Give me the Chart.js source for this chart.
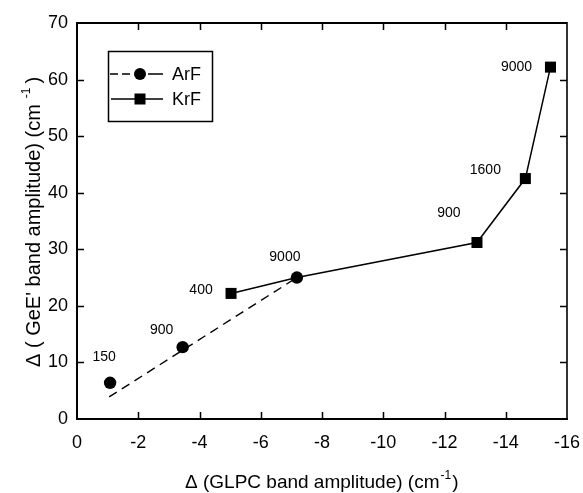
<!DOCTYPE html>
<html>
<head>
<meta charset="utf-8">
<script src="https://cdn.jsdelivr.net/npm/chart.js@4.4.1/dist/chart.umd.min.js"></script>
<style>
  html, body { margin: 0; padding: 0; background: #ffffff; }
  #wrap { width: 583px; height: 493px; position: relative; }
</style>
</head>
<body>
<div id="wrap"><canvas id="c"></canvas></div>
<script>
// ---- Data ----
const arfX = [-1.08, -3.45, -7.18];
const arfY = [6.4, 12.7, 25.0];
const arfLabels = ["150", "900", "9000"];

const arfFitX = [-1.05, -7.18];
const arfFitY = [3.9, 25.0];

const krfX = [-5.03, -7.18, -13.06, -14.64, -15.46];
const krfY = [22.2, 25.0, 31.2, 42.5, 62.2];
const krfLabels = ["400", "", "900", "1600", "9000"];
const krfMarker = [true, false, true, true, true];

const xTicks = [0, -2, -4, -6, -8, -10, -12, -14, -16];
const yTicks = [0, 10, 20, 30, 40, 50, 60, 70];

const seriesNames = ["ArF", "KrF"];

// label offsets (pixels) relative to each point
const arfLabelOffsets = [[-6, -26], [-21, -17], [-12, -20]];
const krfLabelOffsets = [[-30, -3], [0, 0], [-28, -29], [-40, -8], [-34, 0]];

const FONT = "'Liberation Sans', Arial, Helvetica, sans-serif";
Chart.defaults.font.family = FONT;
Chart.defaults.color = '#000';

const toPts = (xs, ys) => xs.map((x, i) => ({ x: x, y: ys[i] }));

const decorPlugin = {
  id: 'decor',
  afterDraw(chart) {
    const ctx = chart.ctx;
    const xs = chart.scales.x, ys = chart.scales.y;
    const L = xs.left, R = xs.right, T = ys.top, B = ys.bottom;
    ctx.save();
    ctx.strokeStyle = '#000';
    // frame
    ctx.lineWidth = 2;
    ctx.beginPath();
    ctx.moveTo(L, T); ctx.lineTo(R, T);
    ctx.moveTo(L, T - 1); ctx.lineTo(L, B + 1);
    ctx.moveTo(L - 1, B); ctx.lineTo(R + 1, B);
    ctx.stroke();
    ctx.lineWidth = 1.6;
    ctx.beginPath();
    ctx.moveTo(R, T - 1); ctx.lineTo(R, B + 1);
    ctx.stroke();
    // inward ticks
    const tl = 7;
    ctx.lineWidth = 1.5;
    ctx.beginPath();
    xTicks.forEach(v => {
      const px = Math.round(xs.getPixelForValue(v)) + 0.5;
      if (v === 0 || v === -16) return;
      ctx.moveTo(px, B); ctx.lineTo(px, B - tl);
      ctx.moveTo(px, T); ctx.lineTo(px, T + tl);
    });
    yTicks.forEach(v => {
      const py = Math.round(ys.getPixelForValue(v)) + 0.5;
      if (v === 0 || v === 70) return;
      ctx.moveTo(L, py); ctx.lineTo(L + tl, py);
      ctx.moveTo(R, py); ctx.lineTo(R - tl, py);
    });
    ctx.stroke();

    // point labels
    ctx.fillStyle = '#000';
    ctx.font = '14px ' + FONT;
    ctx.textAlign = 'center';
    ctx.textBaseline = 'middle';
    arfX.forEach((x, i) => {
      const px = xs.getPixelForValue(x), py = ys.getPixelForValue(arfY[i]);
      ctx.fillText(arfLabels[i], px + arfLabelOffsets[i][0], py + arfLabelOffsets[i][1]);
    });
    krfX.forEach((x, i) => {
      if (!krfLabels[i]) return;
      const px = xs.getPixelForValue(x), py = ys.getPixelForValue(krfY[i]);
      ctx.fillText(krfLabels[i], px + krfLabelOffsets[i][0], py + krfLabelOffsets[i][1]);
    });

    // legend
    const bx = 108.5, by = 51.5, bw = 104, bh = 70;
    ctx.lineWidth = 1.5;
    ctx.strokeRect(bx, by, bw, bh);
    const rows = [74, 99];
    ctx.setLineDash([8, 4]);
    ctx.beginPath(); ctx.moveTo(110, rows[0]); ctx.lineTo(131, rows[0]); ctx.stroke();
    ctx.setLineDash([]);
    ctx.beginPath(); ctx.moveTo(148, rows[0]); ctx.lineTo(163, rows[0]); ctx.stroke();
    ctx.beginPath(); ctx.arc(140, rows[0], 6, 0, Math.PI * 2); ctx.fill();
    ctx.beginPath(); ctx.moveTo(111, rows[1]); ctx.lineTo(163, rows[1]); ctx.stroke();
    ctx.fillRect(134.5, rows[1] - 5.5, 11, 11);
    ctx.font = '18px ' + FONT;
    ctx.textAlign = 'left';
    ctx.fillText(seriesNames[0], 172, rows[0] + 1);
    ctx.fillText(seriesNames[1], 172, rows[1] + 1);

    // x axis title
    const sup = '-1';
    ctx.textBaseline = 'alphabetic';
    ctx.font = '19px ' + FONT;
    const xMain = '\u0394 (GLPC band amplitude) (cm';
    const wMain = ctx.measureText(xMain).width;
    ctx.font = '12px ' + FONT;
    const wSup = ctx.measureText(sup).width;
    let sx = 185;
    const baseY = 488;
    ctx.font = '19px ' + FONT;
    ctx.fillText(xMain, sx, baseY);
    ctx.font = '12px ' + FONT;
    ctx.fillText(sup, sx + wMain + 1, baseY - 9);
    ctx.font = '19px ' + FONT;
    ctx.fillText(')', sx + wMain + wSup + 2, baseY);

    // y axis title (rotated)
    ctx.save();
    ctx.translate(40, 367);
    ctx.rotate(-Math.PI / 2);
    ctx.font = '20px ' + FONT;
    const yMain = "\u0394 ( GeE' band amplitude) (cm";
    const wyMain = ctx.measureText(yMain).width;
    ctx.fillText(yMain, 0, 0);
    ctx.font = '12px ' + FONT;
    ctx.fillText(sup, wyMain + 6, -10);
    ctx.font = '20px ' + FONT;
    ctx.fillText(')', wyMain + 6 + wSup + 4, 0);
    ctx.restore();

    ctx.restore();
  }
};

new Chart(document.getElementById('c'), {
  type: 'scatter',
  data: {
    datasets: [
      {
        label: 'ArF fit',
        data: toPts(arfFitX, arfFitY),
        showLine: true,
        borderColor: '#000',
        borderWidth: 1.4,
        borderDash: [9, 6],
        pointRadius: 0,
        order: 3
      },
      {
        label: 'KrF',
        data: toPts(krfX, krfY),
        showLine: true,
        borderColor: '#000',
        backgroundColor: '#000',
        borderWidth: 1.5,
        pointStyle: 'rect',
        pointRadius: krfMarker.map(m => m ? 7.8 : 0),
        pointBorderWidth: 0,
        order: 2
      },
      {
        label: 'ArF',
        data: toPts(arfX, arfY),
        showLine: false,
        borderColor: '#000',
        backgroundColor: '#000',
        pointStyle: 'circle',
        pointRadius: 6.2,
        pointBorderWidth: 0,
        order: 1
      }
    ]
  },
  options: {
    responsive: true,
    maintainAspectRatio: false,
    animation: false,
    layout: { padding: { top: 23, right: 16, left: 0, bottom: 0 } },
    plugins: { legend: { display: false }, tooltip: { enabled: false } },
    scales: {
      x: {
        type: 'linear',
        min: -16, max: 0,
        reverse: true,
        afterFit: s => { s.height = 74; s.paddingLeft = 0; s.paddingRight = 0; },
        afterBuildTicks: s => { s.ticks = xTicks.map(v => ({ value: v })); },
        grid: { display: false, drawTicks: false },
        border: { display: false },
        ticks: { font: { size: 18 }, padding: 13, color: '#000', maxRotation: 0, autoSkip: false }
      },
      y: {
        type: 'linear',
        min: 0, max: 70,
        afterFit: s => { s.width = 77; s.paddingTop = 0; s.paddingBottom = 0; },
        afterBuildTicks: s => { s.ticks = yTicks.map(v => ({ value: v })); },
        grid: { display: false, drawTicks: false },
        border: { display: false },
        ticks: { font: { size: 18 }, padding: 9, color: '#000', autoSkip: false }
      }
    }
  },
  plugins: [decorPlugin]
});
</script>
</body>
</html>
